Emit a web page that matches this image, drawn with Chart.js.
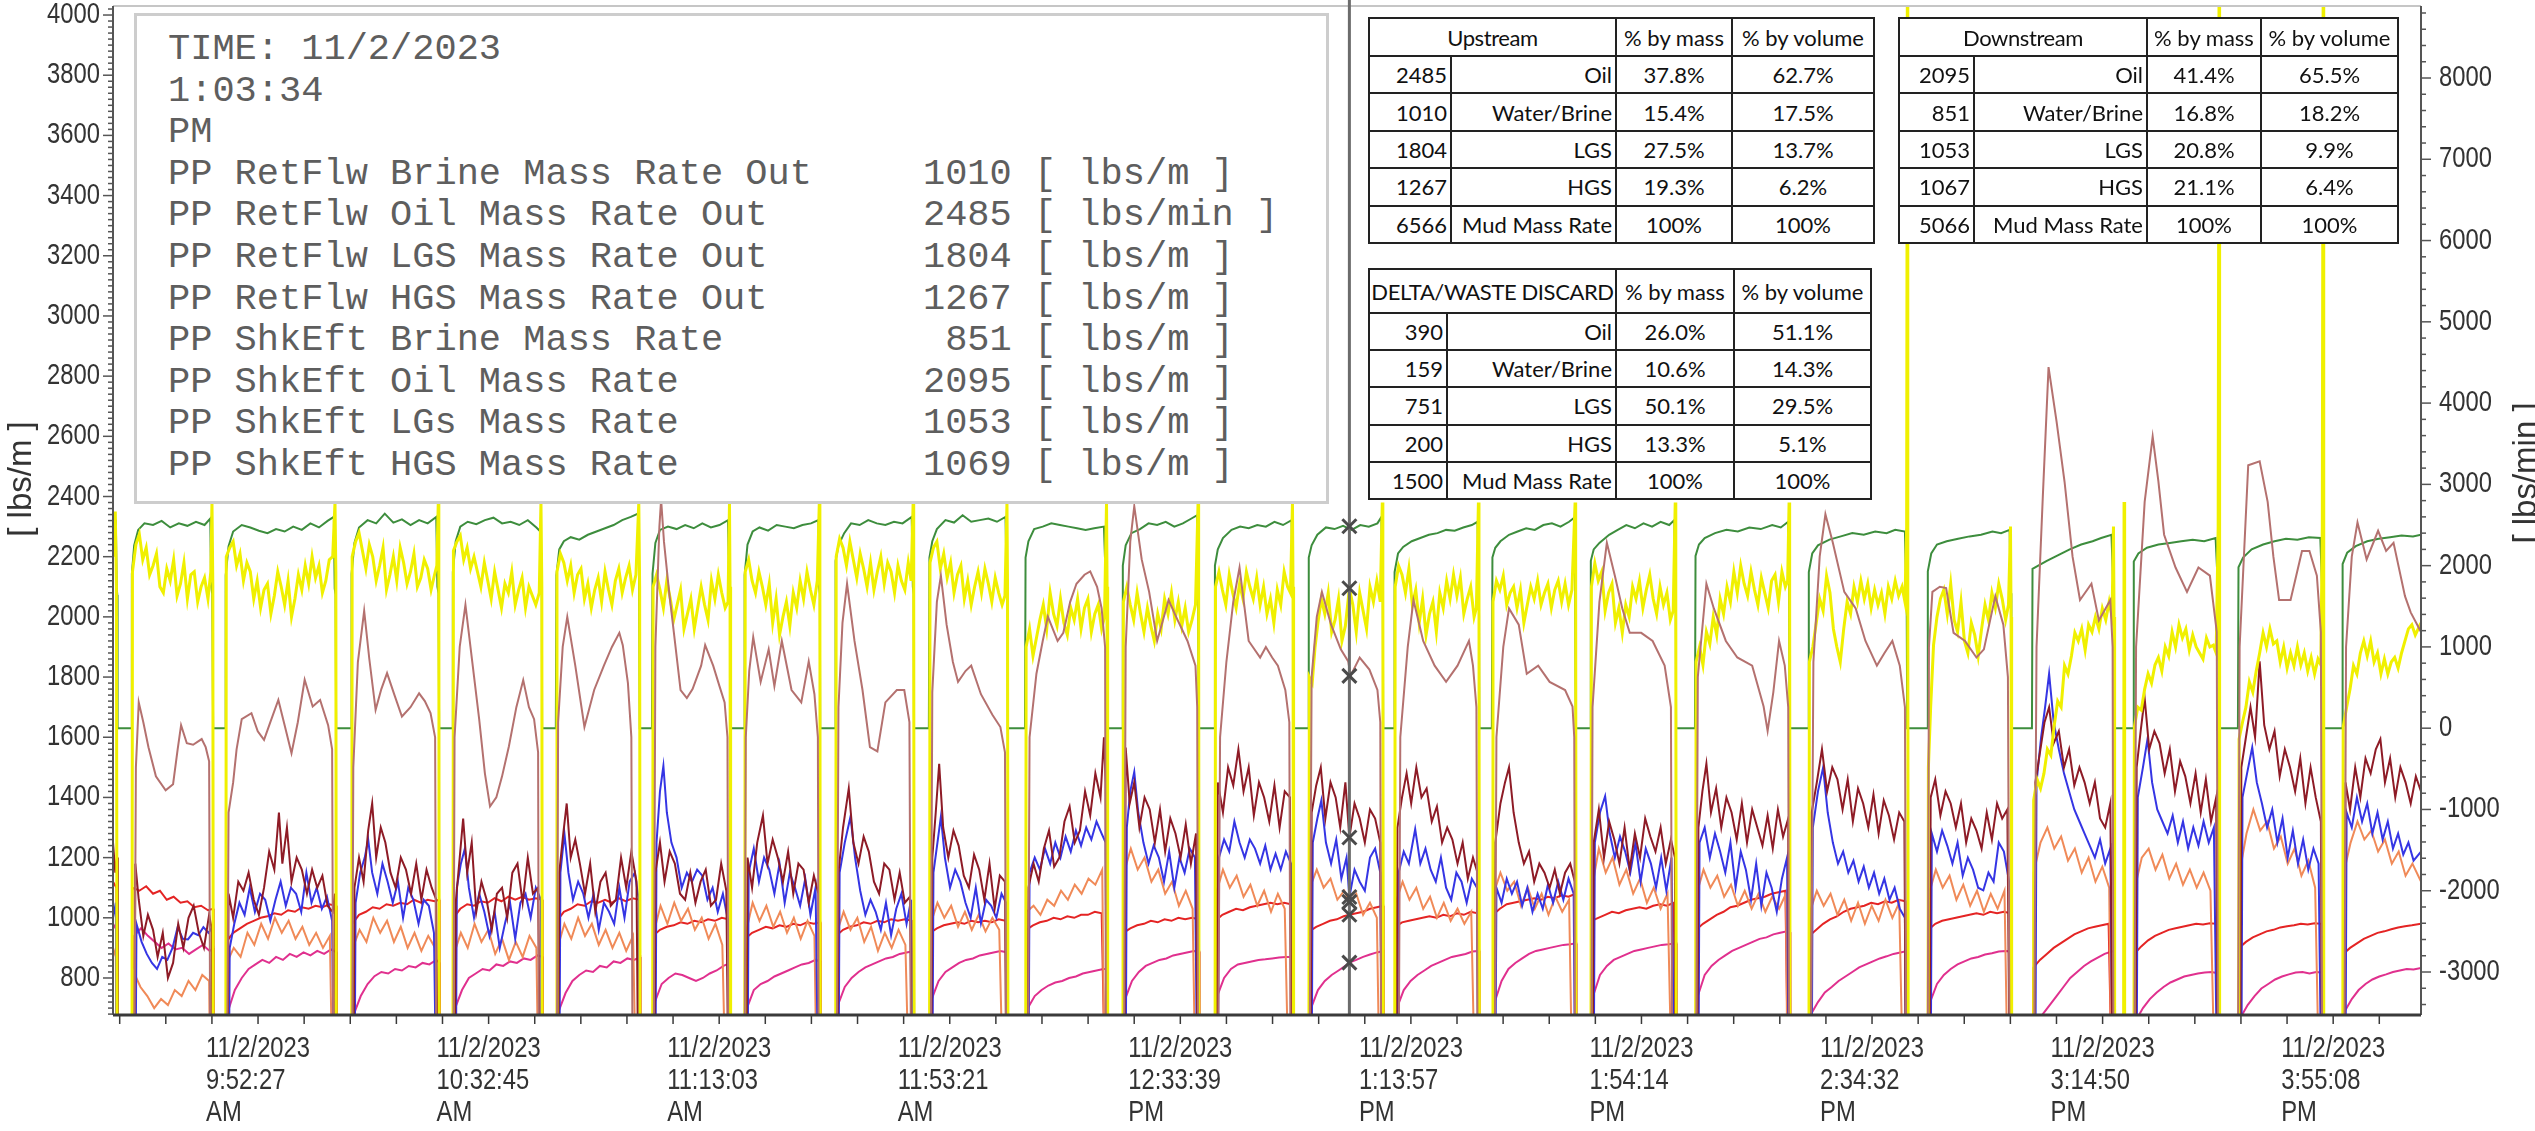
<!DOCTYPE html>
<html>
<head>
<meta charset="utf-8">
<script src="https://cdn.jsdelivr.net/npm/chart.js@4.4.0/dist/chart.umd.min.js"></script>
<style>
  html, body { margin: 0; padding: 0; background: #fff; }
  #wrap { position: relative; width: 2535px; height: 1131px; overflow: hidden; }
  #chart { position: absolute; left: 0; top: 0; }
  #readout {
    position: absolute; left: 134px; top: 13px; width: 1195px; height: 491px;
    box-sizing: border-box; border: 3px solid #cdcdcd; background: #fff;
  }
  #readout pre {
    margin: 0; position: absolute; left: 31px; top: 13px;
    font-family: "Liberation Mono", "DejaVu Sans Mono", monospace;
    font-size: 37px; line-height: 41.6px; color: #5e5e5e;
  }
  table.grid {
    position: absolute; border-collapse: collapse; table-layout: fixed; background: #fff;
    font-family: Lato, "Liberation Sans", sans-serif; font-size: 22px; color: #111;
  }
  table.grid td { border: 2px solid #222; padding: 0 3px; white-space: nowrap; overflow: hidden; }
  table.grid td.num, table.grid td.name { text-align: right; }
  table.grid td.pct, table.grid td.head { text-align: center; }
  table.grid td.head { padding: 0; letter-spacing: -0.4px; }
</style>
</head>
<body>
<div id="wrap">
  <canvas id="chart" width="2535" height="1131"></canvas>
  <div id="readout"><pre id="readoutText"></pre></div>
  <table class="grid" id="upTable"></table>
  <table class="grid" id="downTable"></table>
  <table class="grid" id="deltaTable"></table>
</div>
<script>
// time axis is minutes after 9:27:09 AM
const labelMinutes = [25.35, 65.65, 105.95, 146.25, 186.55, 226.85, 267.15, 307.45, 347.75, 388.05];
const timeLabels = [
  ['11/2/2023', '9:52:27', 'AM'], ['11/2/2023', '10:32:45', 'AM'], ['11/2/2023', '11:13:03', 'AM'],
  ['11/2/2023', '11:53:21', 'AM'], ['11/2/2023', '12:33:39', 'PM'], ['11/2/2023', '1:13:57', 'PM'],
  ['11/2/2023', '1:54:14', 'PM'], ['11/2/2023', '2:34:32', 'PM'], ['11/2/2023', '3:14:50', 'PM'],
  ['11/2/2023', '3:55:08', 'PM']
];
const leftTicks = [800, 1000, 1200, 1400, 1600, 1800, 2000, 2200, 2400, 2600, 2800, 3000, 3200, 3400, 3600, 3800, 4000];
const rightTicks = [-3000, -2000, -1000, 0, 1000, 2000, 3000, 4000, 5000, 6000, 7000, 8000];
const cursorMinute = 216.1;

const readoutHead = ['TIME: 11/2/2023', '1:03:34', 'PM'];
const readoutNames = ['PP RetFlw Brine Mass Rate Out', 'PP RetFlw Oil Mass Rate Out', 'PP RetFlw LGS Mass Rate Out',
  'PP RetFlw HGS Mass Rate Out', 'PP ShkEft Brine Mass Rate', 'PP ShkEft Oil Mass Rate', 'PP ShkEft LGs Mass Rate',
  'PP ShkEft HGS Mass Rate'];
const readoutValues = [1010, 2485, 1804, 1267, 851, 2095, 1053, 1069];
const readoutUnits = ['lbs/m', 'lbs/min', 'lbs/m', 'lbs/m', 'lbs/m', 'lbs/m', 'lbs/m', 'lbs/m'];
const readoutAxis = ['y', 'y1', 'y', 'y', 'y', 'y', 'y', 'y'];

const upstreamRows = [['2485', 'Oil', '37.8%', '62.7%'], ['1010', 'Water/Brine', '15.4%', '17.5%'], ['1804', 'LGS', '27.5%', '13.7%'],
  ['1267', 'HGS', '19.3%', '6.2%'], ['6566', 'Mud Mass Rate', '100%', '100%']];
const downstreamRows = [['2095', 'Oil', '41.4%', '65.5%'], ['851', 'Water/Brine', '16.8%', '18.2%'], ['1053', 'LGS', '20.8%', '9.9%'],
  ['1067', 'HGS', '21.1%', '6.4%'], ['5066', 'Mud Mass Rate', '100%', '100%']];
const deltaRows = [['390', 'Oil', '26.0%', '51.1%'], ['159', 'Water/Brine', '10.6%', '14.3%'], ['751', 'LGS', '50.1%', '29.5%'],
  ['200', 'HGS', '13.3%', '5.1%'], ['1500', 'Mud Mass Rate', '100%', '100%']];

// PP RetFlw Oil Mass Rate Out [lbs/min] - right axis (green)
const oilOut = [[0,2500],[0.5,2540],[0.65,1720],[0.75,1640],[0.8,0],
[3.2,0],[3.3,1900],[3.7,2250],[4.4,2440],[5.5,2520],[7,2500],[8.5,2550],[10,2470],[11.5,2520],[13,2490],[14.5,2540],[16,2500],[17.0,2580],[17.15,1760],[17.35,1650],[17.5,0],
[19.6,0],[19.7,1880],[20.2,2240],[21,2420],[22.5,2500],[24,2470],[25.5,2430],[27,2400],[28.5,2450],[30,2420],[31.5,2480],[33,2440],[34.5,2520],[36,2470],[37.5,2550],[38.6,2600],[38.75,1720],[38.9,1640],[39.0,0],
[41.6,0],[41.7,1900],[42.2,2280],[43,2470],[44.5,2560],[46,2520],[47.5,2640],[49,2530],[50.5,2570],[52,2500],[53.5,2560],[55,2520],[56.5,2600],[56.7,1740],[56.9,1660],[57.0,0],
[59.3,0],[59.4,1920],[59.9,2300],[60.7,2480],[62,2540],[63.5,2510],[65,2560],[66.5,2590],[68,2520],[69.5,2540],[71,2500],[72.5,2560],[74,2470],[74.7,2420],[74.85,1700],[74.95,1640],[75.0,0],
[77.4,0],[77.5,1880],[78,2200],[78.8,2300],[80,2350],[81.5,2320],[83,2380],[84.5,2420],[86,2460],[87.5,2500],[89,2560],[90.5,2600],[91.8,2640],[91.95,1760],[92.05,1660],[92.1,0],
[94.2,0],[94.3,1900],[94.8,2280],[95.6,2440],[97,2480],[98.5,2450],[100,2500],[101.5,2460],[103,2520],[104.5,2470],[106,2500],[107.5,2560],[107.7,1740],[107.85,1650],[107.9,0],
[110.3,0],[110.4,1880],[110.9,2260],[111.8,2420],[113,2470],[114.5,2430],[116,2500],[117.5,2480],[119,2460],[120.5,2500],[122,2520],[123.3,2560],[123.45,1720],[123.55,1650],[123.6,0],
[126.2,0],[126.3,2060],[126.8,2250],[127.8,2400],[129,2520],[130.5,2500],[132,2560],[133.5,2520],[135,2500],[136.5,2540],[138,2520],[139.6,2600],[139.8,1740],[139.95,1650],[140.0,0],
[142.6,0],[142.7,2100],[143.2,2300],[144,2450],[145.5,2560],[147,2530],[148.5,2620],[150,2540],[151.5,2560],[153,2580],[154.5,2540],[156.0,2600],[156.2,1760],[156.35,1660],[156.4,0],
[159.4,0],[159.5,2100],[160,2300],[161,2450],[162.5,2480],[164,2520],[165.5,2500],[167,2480],[168.5,2460],[170,2440],[171.5,2460],[173.2,2480],[173.55,1740],[173.7,1650],[173.8,0],
[176.4,0],[176.5,2000],[177,2250],[178,2400],[179.5,2450],[181,2520],[182.5,2500],[184,2540],[185.5,2480],[187,2520],[188.5,2580],[189.5,2620],[189.65,1740],[189.75,1650],[189.8,0],
[192.5,0],[192.6,2000],[193.1,2200],[194,2340],[195.5,2440],[197,2480],[198.5,2460],[200,2500],[201.5,2480],[203,2540],[204.5,2500],[206.0,2560],[206.15,1740],[206.25,1650],[206.3,0],
[208.9,0],[209,2100],[209.5,2250],[210.5,2380],[212,2470],[213.5,2450],[215,2490],[216.5,2440],[218,2500],[219.5,2480],[221.0,2520],[221.7,2600],[221.85,1720],[221.95,1650],[222.0,0],
[223.9,0],[224,1920],[224.6,2150],[225.5,2230],[227,2300],[228.5,2340],[230,2380],[231.5,2400],[233,2440],[234.5,2430],[236,2470],[237.5,2500],[238.5,2540],[238.65,1720],[238.75,1650],[238.8,0],
[241,0],[241.1,2100],[241.6,2220],[242.5,2300],[244,2380],[245.5,2420],[247,2460],[248.5,2440],[250,2500],[251.5,2520],[253,2480],[254.5,2540],[255.4,2590],[255.55,1740],[255.65,1650],[255.7,0],
[258.2,0],[258.3,2060],[258.8,2200],[259.8,2280],[261.5,2380],[263,2440],[264.5,2500],[266,2460],[267.5,2520],[269,2480],[270.5,2540],[272,2500],[272.9,2560],[273.05,1740],[273.15,1650],[273.2,0],
[276.5,0],[276.6,2120],[277.2,2260],[278.2,2340],[280,2400],[282,2440],[284,2420],[286,2470],[288,2450],[290,2500],[291.5,2470],[292.8,2540],[292.95,1740],[293.05,1650],[293.1,0],
[296.3,0],[296.4,1920],[297,2150],[298,2250],[300,2320],[302,2360],[304,2400],[306,2380],[308,2420],[310,2400],[311.5,2440],[313.2,2420],[313.4,1740],[313.5,1650],[313.6,0],
[317.1,0],[317.2,1930],[317.8,2150],[318.8,2260],[320.5,2300],[322.5,2330],[324.5,2360],[326.5,2380],[328.5,2420],[330,2400],[331.5,2440],[331.65,1760],[331.75,1660],[331.8,0],
[335.4,0],[335.5,1960],[336.5,2000],[338,2060],[340,2130],[342,2200],[344,2260],[346,2300],[347.5,2340],[349.3,2380],[349.6,1740],[349.7,1650],[349.8,0],
[353.1,0],[353.2,2050],[354,2150],[355.5,2220],[357.5,2260],[359.5,2280],[361.5,2300],[363.5,2320],[365.5,2300],[367.5,2340],[367.9,1740],[368.0,1650],[368.1,0],
[371.4,0],[371.5,1980],[372.3,2100],[373.8,2200],[375.8,2260],[377.8,2300],[379.8,2330],[381.8,2320],[383.8,2350],[385.8,2340],[386.1,1760],[386.2,1660],[386.3,0],
[389.6,0],[389.7,2020],[390.5,2160],[392,2240],[394,2300],[396,2330],[398,2350],[400,2370],[402,2360],[403.4,2380]];

// PP ShkEft Oil Mass Rate [lbs/m] (yellow)
const oilShk = [[0,2200],[0.4,2350],[0.6,2100],[0.75,0],
[3.3,0],[3.4,2150],[4.0,2240],[4.6,2275],[5.2,2190],[5.8,2230],[6.4,2140],[7.0,2170],[7.6,2210],[8.2,2100],[8.8,2080],[9.4,2160],[10.0,2120],[10.6,2190],[11.2,2070],[11.8,2110],[12.4,2180],[13.0,2060],[13.6,2140],[14.2,2150],[14.8,2050],[15.4,2100],[16.0,2130],[16.6,2060],[17.1,2150],[17.3,2380],[17.45,2100],[17.55,0],
[19.7,0],[19.8,2200],[20.4,2230],[21.0,2250],[21.6,2170],[22.2,2210],[22.8,2120],[23.4,2180],[24.0,2150],[24.6,2060],[25.2,2120],[25.8,2030],[26.4,2090],[27.0,2110],[27.6,2010],[28.2,2070],[28.8,2150],[29.4,2100],[30.0,2040],[30.6,2120],[31.2,2000],[31.8,2060],[32.4,2140],[33.0,2090],[33.6,2170],[34.2,2110],[34.8,2200],[35.4,2130],[36.0,2170],[36.6,2080],[37.2,2120],[37.8,2190],[38.4,2200],[38.8,2380],[38.95,2150],[39.05,0],
[41.7,0],[41.8,2200],[42.4,2250],[43.0,2280],[43.6,2220],[44.2,2160],[44.8,2240],[45.4,2200],[46.0,2120],[46.6,2170],[47.2,2230],[47.8,2090],[48.4,2140],[49.0,2200],[49.6,2120],[50.2,2230],[50.8,2180],[51.4,2110],[52.0,2150],[52.6,2210],[53.2,2100],[53.8,2130],[54.4,2190],[55.0,2160],[55.6,2090],[56.2,2140],[56.6,2170],[56.85,2380],[56.95,2100],[57.05,0],
[59.4,0],[59.5,2220],[60.1,2250],[60.7,2270],[61.3,2190],[61.9,2230],[62.5,2160],[63.1,2200],[63.7,2150],[64.3,2100],[64.9,2180],[65.5,2120],[66.1,2060],[66.7,2150],[67.3,2090],[67.9,2030],[68.5,2110],[69.1,2080],[69.7,2150],[70.3,2040],[70.9,2090],[71.5,2130],[72.1,2030],[72.7,2100],[73.3,2070],[73.9,2040],[74.5,2080],[74.8,2380],[74.95,2100],[75.05,0],
[77.5,0],[77.6,2150],[78.2,2210],[78.8,2180],[79.4,2120],[80.0,2170],[80.6,2080],[81.2,2140],[81.8,2160],[82.4,2060],[83.0,2110],[83.6,2030],[84.2,2090],[84.8,2130],[85.4,2050],[86.0,2150],[86.6,2090],[87.2,2040],[87.8,2120],[88.4,2160],[89.0,2080],[89.6,2130],[90.2,2170],[90.8,2090],[91.4,2140],[91.9,2380],[92.05,2100],[92.15,0],
[94.3,0],[94.4,2100],[95.0,2140],[95.6,2090],[96.2,2030],[96.8,2120],[97.4,2060],[98.0,1990],[98.6,2040],[99.2,2090],[99.8,1960],[100.4,2010],[101.0,2060],[101.6,1960],[102.2,2030],[102.8,2100],[103.4,2040],[104.0,1990],[104.6,2120],[105.2,2060],[105.8,2140],[106.4,2080],[107.0,2030],[107.5,2050],[107.75,2380],[107.85,2100],[107.95,0],
[110.4,0],[110.5,2150],[111.1,2190],[111.7,2120],[112.3,2080],[112.9,2150],[113.5,2100],[114.1,2040],[114.7,2110],[115.3,1980],[115.9,2060],[116.5,1940],[117.1,2000],[117.7,2050],[118.3,1970],[118.9,2080],[119.5,2030],[120.1,2120],[120.7,2060],[121.3,2150],[121.9,2090],[122.5,2040],[123.1,2120],[123.45,2380],[123.55,2100],[123.65,0],
[126.3,0],[126.4,2200],[127.0,2260],[127.6,2230],[128.2,2170],[128.8,2250],[129.4,2190],[130.0,2130],[130.6,2210],[131.2,2160],[131.8,2100],[132.4,2180],[133.0,2090],[133.6,2150],[134.2,2200],[134.8,2110],[135.4,2180],[136.0,2150],[136.6,2080],[137.2,2170],[137.8,2120],[138.4,2090],[139.0,2180],[139.5,2120],[139.85,2380],[139.95,2100],[140.05,0],
[142.7,0],[142.8,2180],[143.4,2230],[144.0,2250],[144.6,2160],[145.2,2210],[145.8,2130],[146.4,2180],[147.0,2080],[147.6,2140],[148.2,2170],[148.8,2060],[149.4,2120],[150.0,2040],[150.6,2100],[151.2,2150],[151.8,2080],[152.4,2160],[153.0,2110],[153.6,2050],[154.2,2130],[154.8,2080],[155.4,2040],[155.9,2070],[156.25,2380],[156.35,2100],[156.45,0],
[159.5,0],[159.6,1900],[160.2,1960],[160.8,1870],[161.4,1930],[162.0,1990],[162.6,2040],[163.2,1960],[163.8,2080],[164.4,2010],[165.0,1970],[165.6,2060],[166.2,1980],[166.8,1940],[167.4,2030],[168.0,1990],[168.6,2060],[169.2,1960],[169.8,2030],[170.4,2060],[171.0,1950],[171.6,2010],[172.2,2040],[172.8,1960],[173.3,2000],[173.65,2380],[173.75,2100],[173.85,0],
[176.5,0],[176.6,2050],[177.2,2100],[177.8,2040],[178.4,1990],[179.0,2080],[179.6,2010],[180.2,1950],[180.8,2030],[181.4,1970],[182.0,1920],[182.6,2010],[183.2,1960],[183.8,2060],[184.4,2010],[185.0,2080],[185.6,1990],[186.2,2050],[186.8,1970],[187.4,2030],[188.0,1950],[188.6,1990],[189.2,2040],[189.65,2380],[189.75,2100],[189.85,0],
[192.6,0],[192.7,2100],[193.3,2150],[193.9,2090],[194.5,2040],[195.1,2140],[195.7,2080],[196.3,2030],[196.9,2110],[197.5,2060],[198.1,2150],[198.7,2100],[199.3,2060],[199.9,2130],[200.5,2040],[201.1,2100],[201.7,2010],[202.3,2060],[202.9,1980],[203.5,2090],[204.1,2040],[204.7,2150],[205.3,2100],[205.8,2080],[206.15,2380],[206.25,2100],[206.35,0],
[209.0,0],[209.1,1800],[209.6,1780],[210.1,1900],[210.6,1980],[211.2,2060],[211.8,2010],[212.4,2080],[213.0,1950],[213.6,1990],[214.2,2060],[214.8,1920],[215.4,1970],[216.1,2095],[216.7,2040],[217.3,1950],[217.9,2080],[218.5,2020],[219.1,1960],[219.7,2100],[220.3,2050],[220.9,2120],[221.5,2050],[221.85,2380],[221.95,2100],[222.05,0],
[224.0,0],[224.1,2100],[224.7,2170],[225.3,2140],[225.9,2080],[226.5,2160],[227.1,2040],[227.7,2090],[228.3,1980],[228.9,2060],[229.5,1940],[230.1,2010],[230.7,2050],[231.3,1950],[231.9,2080],[232.5,2030],[233.1,2120],[233.7,2060],[234.3,2140],[234.9,2070],[235.5,2130],[236.1,2010],[236.7,2060],[237.3,2100],[237.9,2000],[238.3,2030],[238.65,2380],[238.75,2100],[238.85,0],
[241.1,0],[241.2,2050],[241.8,2120],[242.4,2090],[243.0,2137],[243.6,2040],[244.2,2080],[244.8,2100],[245.4,2030],[246.0,2090],[246.6,1980],[247.2,2040],[247.8,2100],[248.4,2060],[249.0,2120],[249.6,2040],[250.2,2080],[250.8,2110],[251.4,2030],[252.0,2090],[252.6,2120],[253.2,2050],[253.8,2110],[254.4,2040],[255.0,2090],[255.55,2380],[255.65,2100],[255.75,0],
[258.3,0],[258.4,2100],[259.0,2178],[259.6,2120],[260.2,2150],[260.8,2020],[261.4,2080],[262.0,2110],[262.6,1980],[263.2,2030],[263.8,1947],[264.4,2040],[265.0,2000],[265.6,2100],[266.2,2060],[266.8,2120],[267.4,2030],[268.0,2090],[268.6,2140],[269.2,2060],[269.8,2010],[270.4,2100],[271.0,2040],[271.6,2080],[272.2,1990],[272.7,2020],[273.05,2380],[273.15,2100],[273.25,0],
[276.6,0],[276.7,1850],[277.3,1900],[277.9,1840],[278.5,1950],[279.1,1910],[279.7,2000],[280.3,1940],[280.9,2060],[281.5,2010],[282.1,2100],[282.7,2050],[283.3,2150],[283.9,2080],[284.5,2170],[285.1,2110],[285.7,2070],[286.3,2150],[286.9,2090],[287.5,2040],[288.1,2130],[288.7,2080],[289.3,2030],[289.9,2120],[290.5,2140],[291.1,2050],[291.7,2150],[292.3,2100],[292.7,2120],[292.95,2380],[293.05,2100],[293.15,0],
[296.4,0],[296.5,1850],[297.1,1900],[297.7,1980],[298.3,2060],[298.9,2020],[299.5,2137],[300.1,2080],[300.7,1960],[301.3,1900],[301.9,1850],[302.5,1960],[303.1,2050],[303.7,2010],[304.3,2100],[304.9,2050],[305.5,2120],[306.1,2060],[306.7,2110],[307.3,2030],[307.9,2090],[308.5,2040],[309.1,2080],[309.7,2010],[310.3,2100],[310.9,2060],[311.5,2120],[312.1,2070],[312.7,2100],[313.2,2050],[313.5,2300],[313.62,4100],[313.7,2000],[313.8,0],
[317.2,0],[317.3,1499],[317.7,1702],[318.2,1906],[318.8,2000],[319.4,2060],[320.0,2090],[320.6,2010],[321.2,2110],[321.8,1990],[322.4,1950],[323.0,2050],[323.6,1920],[324.2,1880],[324.8,1980],[325.4,1940],[326.0,1870],[326.6,1960],[327.2,2040],[327.8,1990],[328.4,2080],[329.0,2030],[329.6,2110],[330.2,2060],[330.8,1990],[331.3,2040],[331.65,2300],[331.75,2000],[331.85,0],
[335.6,0],[335.7,1390],[336.3,1460],[336.9,1430],[337.5,1480],[338.1,1560],[338.7,1540],[339.3,1640],[339.9,1720],[340.5,1700],[341.1,1838],[341.7,1810],[342.3,1870],[342.9,1947],[343.5,1920],[344.1,1960],[344.7,1890],[345.3,1974],[345.9,1950],[346.5,2000],[347.1,1960],[347.7,2028],[348.3,1990],[348.9,2050],[349.4,2000],[349.65,2300],[349.75,2000],[349.85,0],[351.4,0],[351.5,2382],[351.6,0],
[353.2,0],[353.3,1634],[353.9,1700],[354.5,1690],[355.1,1760],[355.7,1811],[356.3,1780],[356.9,1840],[357.5,1865],[358.1,1820],[358.7,1900],[359.3,1870],[359.9,1950],[360.5,1900],[361.1,1974],[361.7,1930],[362.3,1960],[362.9,1890],[363.5,1940],[364.1,1900],[364.7,1880],[365.3,1860],[365.9,1930],[366.5,1900],[367.1,1906],[367.6,1880],[367.95,2300],[368.1,4100],[368.2,0],
[371.5,0],[371.6,1594],[372.2,1650],[372.8,1700],[373.4,1784],[374.0,1750],[374.6,1820],[375.2,1880],[375.8,1947],[376.4,1900],[377.0,1960],[377.6,1910],[378.2,1920],[378.8,1850],[379.4,1900],[380.0,1830],[380.6,1880],[381.2,1838],[381.8,1900],[382.4,1840],[383.0,1880],[383.6,1820],[384.2,1865],[384.8,1810],[385.4,1860],[385.9,1840],[386.15,2300],[386.3,4100],[386.4,0],
[389.7,0],[389.8,1634],[390.4,1700],[391.0,1760],[391.6,1838],[392.2,1810],[392.8,1880],[393.4,1920],[394.0,1870],[394.6,1920],[395.2,1850],[395.8,1880],[396.4,1811],[397.0,1860],[397.6,1810],[398.2,1850],[398.8,1865],[399.4,1830],[400.0,1880],[400.6,1920],[401.2,1960],[401.8,1974],[402.4,1940],[403.4,1980]];

// PP RetFlw LGS Mass Rate Out [lbs/m] (rosy brown)
const lgsOut = [[0,0],[3.6,0],[4.0,1500],[4.5,1716],[5.3,1650],[6.2,1567],[7.5,1470],[9.2,1424],[10.5,1444],[11.3,1560],[11.9,1640],[12.9,1580],[14.0,1575],[15.5,1594],[16.2,1567],[16.8,1520],[17.1,0],
[19.8,0],[20.2,1350],[21,1450],[21.6,1560],[22.5,1660],[24.2,1680],[25.3,1620],[26.4,1591],[27.5,1650],[28.9,1724],[30,1640],[31.2,1547],[32.3,1650],[33.5,1791],[34.9,1702],[36.2,1724],[37.6,1640],[38.3,1560],[38.6,0],
[41.7,0],[42.0,1500],[42.8,1850],[43.9,2020],[44.8,1860],[45.9,1691],[46.9,1760],[47.9,1813],[49.2,1740],[50.5,1669],[52,1700],[53.5,1746],[54.5,1720],[55.5,1680],[56.3,1600],[56.6,0],
[59.4,0],[59.7,1600],[60.6,1900],[61.6,2040],[62.8,1850],[64,1660],[65,1480],[65.9,1370],[67,1400],[68,1470],[69.2,1570],[70.5,1700],[71.7,1790],[72.7,1700],[73.6,1660],[74.3,1550],[74.5,0],
[77.5,0],[77.8,1650],[78.6,1900],[79.4,2000],[80.8,1838],[82.4,1634],[84.1,1757],[85.8,1838],[87.2,1900],[88.5,1947],[89.1,1906],[90.0,1780],[90.6,1600],[90.9,0],
[94.4,0],[94.8,1900],[95.5,2300],[95.8,2390],[96.3,2250],[97.2,2083],[98.2,1920],[99.2,1757],[100.3,1730],[101.3,1760],[102.8,1838],[103.5,1906],[104.9,1838],[106,1770],[106.9,1716],[107.4,1600],[107.6,0],
[110.3,0],[110.6,1600],[111.2,1820],[111.9,1933],[113.2,1784],[114.6,1892],[115.6,1770],[116.9,1920],[118.6,1757],[120.3,1716],[121.6,1852],[122.6,1743],[123.2,1600],[123.4,0],
[126.4,0],[126.8,1700],[127.5,1980],[128.3,2110],[129.6,1920],[131,1757],[132.3,1567],[133.6,1553],[135,1716],[137,1757],[138.3,1757],[139.2,1650],[139.6,0],
[142.8,0],[143.2,1750],[144.0,2050],[144.7,2137],[145.7,1974],[146.8,1850],[147.7,1784],[149,1820],[150,1838],[151.7,1743],[153.7,1675],[155.1,1634],[155.9,1550],[156.2,0],
[159.8,0],[160.2,1600],[161.4,1811],[162.5,1920],[163.4,2001],[165.1,1920],[166.1,1947],[167.3,2050],[168.4,2110],[169.8,2140],[170.8,2151],[172,2100],[172.8,2028],[173.4,1900],[173.6,0],
[176.6,0],[177.0,1900],[177.8,2250],[178.5,2368],[179.8,2191],[181.1,2083],[182.5,1920],[184.5,2056],[185.8,2001],[187.8,1920],[189.2,1838],[189.5,1700],[189.7,0],
[193.0,0],[193.5,1600],[194.6,1850],[195.8,2050],[196.9,2164],[198.5,1920],[200.5,1865],[201.5,1900],[202.6,1865],[203.6,1838],[204.9,1757],[205.6,1650],[205.9,0],
[209.0,0],[209.5,1800],[210.4,2000],[211.3,2083],[212.9,1974],[214.6,1892],[215.9,1852],[216.3,1804],[217.9,1865],[219.6,1825],[221.0,1757],[221.5,1650],[221.7,0],
[224.6,0],[225.0,1600],[226.3,1900],[227.3,2056],[229,1920],[231,1838],[233,1784],[235,1838],[237,1920],[237.7,1838],[238.3,1700],[238.6,0],
[241.4,0],[241.8,1600],[243,1900],[244,2028],[245.7,1974],[247.1,1811],[249.1,1838],[251.1,1784],[253.8,1757],[255.1,1702],[255.4,1600],[255.6,0],
[258.3,0],[258.6,1700],[259.8,2050],[261.1,2246],[262.5,2137],[263.8,2028],[265.1,1947],[267.1,1947],[269.1,1920],[271.2,1838],[272.3,1700],[272.6,0],
[276.6,0],[277,1800],[278.5,2110],[279.8,2028],[281.9,1920],[283.9,1865],[286.5,1838],[288.5,1702],[289.2,1621],[290.2,1750],[291.2,1920],[292.2,1838],[292.8,1700],[293.0,0],
[296.6,0],[297.2,1850],[298.3,2200],[299.3,2341],[300.6,2246],[302.6,2083],[304.6,2028],[306.3,1920],[308.3,1838],[309.6,1879],[311,1920],[312.3,1838],[313.2,1700],[313.5,0],
[317.1,0],[317.4,1900],[318,2083],[319.3,2100],[320.4,2096],[321.7,1947],[323.7,1920],[325.7,1865],[327,1892],[329,2069],[330.4,1974],[331.2,1800],[331.6,0],
[335.6,0],[336.2,1900],[337.3,2400],[338.3,2830],[339.7,2650],[341.1,2449],[342.5,2200],[343.8,2056],[345.8,2110],[347.1,1988],[349.1,2056],[349.5,1900],[349.7,0],
[353.2,0],[353.6,1900],[355.1,2382],[356.5,2599],[357.5,2450],[358.5,2273],[360.5,2164],[362.5,2083],[364.5,2164],[366.5,2137],[367.7,1950],[368.0,0],
[371.3,0],[371.7,1900],[373.2,2504],[375.2,2517],[376.6,2382],[377.6,2200],[378.6,2056],[380.6,2056],[382.6,2219],[383.9,2219],[385.2,2137],[385.9,1950],[386.2,0],
[389.9,0],[390.3,1900],[391.3,2200],[392.3,2314],[393.9,2191],[395.9,2286],[397.3,2219],[398.6,2246],[400.6,2069],[401.6,2015],[403.4,1950]];

// PP RetFlw HGS Mass Rate Out [lbs/m] (maroon)
const hgsOut = [[0,1250],[0.4,1150],[0.7,1200],[0.85,0],
[3.6,0],[3.9,1180],[4.5,1060],[5.3,940],[6.1,1010],[7.0,960],[7.8,870],[8.7,950],[9.6,800],[10.5,850],[11.4,980],[12.3,900],[13.2,1000],[14.1,1040],[15.0,950],[15.9,900],[16.8,1010],[17.3,960],[17.45,0],
[19.9,0],[20.2,1080],[21.0,1000],[21.9,1120],[22.8,1090],[23.7,1150],[24.6,1060],[25.5,1010],[26.4,1100],[27.3,1220],[28.2,1160],[29.0,1350],[29.6,1180],[30.4,1300],[31.2,1120],[32.1,1200],[33.0,1160],[33.9,1080],[34.8,1160],[35.7,1100],[36.6,1140],[37.5,1040],[38.4,1020],[38.8,1080],[38.95,0],
[41.9,0],[42.2,1100],[43.0,1200],[43.8,1120],[44.6,1290],[45.3,1380],[46.0,1200],[46.8,1300],[47.6,1250],[48.5,1150],[49.4,1100],[50.3,1200],[51.2,1160],[52.1,1080],[53.0,1180],[53.9,1060],[54.8,1160],[55.7,1100],[56.5,1060],[56.9,0],
[59.6,0],[59.9,1050],[60.6,1200],[61.2,1330],[61.9,1150],[62.7,1250],[63.5,1020],[64.4,1120],[65.3,1060],[66.2,960],[67.1,1080],[68.0,1100],[68.9,1000],[69.8,1150],[70.7,1180],[71.6,1050],[72.5,1200],[73.4,1080],[74.3,1100],[74.9,0],
[77.7,0],[78.0,1150],[78.7,1280],[79.3,1380],[80.0,1200],[80.8,1260],[81.6,1180],[82.5,1080],[83.4,1180],[84.3,1020],[85.2,1120],[86.1,1150],[87.0,1040],[87.9,1060],[88.8,1200],[89.7,1100],[90.6,1220],[91.5,1120],[92.0,0],
[94.5,0],[94.8,1150],[95.6,1250],[96.4,1120],[97.3,1220],[98.2,1180],[99.1,1080],[100.0,1060],[100.9,1150],[101.8,1050],[102.7,1120],[103.6,1160],[104.5,1040],[105.4,1060],[106.3,1180],[107.2,1090],[107.8,0],
[110.6,0],[110.9,1200],[111.7,1100],[112.6,1250],[113.6,1340],[114.4,1180],[115.3,1260],[116.2,1200],[117.1,1120],[118.0,1220],[118.9,1080],[119.8,1180],[120.7,1160],[121.6,1050],[122.5,1140],[123.3,1080],[123.5,0],
[126.5,0],[126.8,1150],[127.6,1300],[128.6,1430],[129.4,1250],[130.3,1180],[131.2,1270],[132.1,1220],[133.0,1120],[133.9,1080],[134.8,1180],[135.7,1160],[136.6,1060],[137.5,1150],[138.4,1050],[139.3,1070],[139.9,0],
[142.9,0],[143.2,1200],[143.8,1350],[144.4,1512],[145.1,1300],[146.0,1200],[146.9,1290],[147.8,1240],[148.7,1140],[149.6,1100],[150.5,1210],[151.4,1160],[152.3,1060],[153.2,1180],[154.1,1030],[155.0,1140],[155.9,1120],[156.3,0],
[159.7,0],[160.0,1100],[160.9,1180],[161.8,1120],[162.7,1230],[163.6,1290],[164.5,1170],[165.4,1200],[166.3,1320],[167.2,1370],[168.1,1250],[169.0,1290],[169.9,1420],[170.8,1340],[171.7,1480],[172.6,1400],[173.2,1600],[173.5,1450],[173.7,0],
[176.7,0],[177.0,1566],[177.7,1380],[178.5,1450],[179.4,1300],[180.3,1400],[181.2,1360],[182.1,1250],[183.0,1360],[183.9,1220],[184.8,1330],[185.7,1280],[186.6,1200],[187.5,1310],[188.4,1180],[189.3,1280],[189.7,0],
[192.8,0],[193.1,1450],[194.0,1350],[194.9,1500],[195.8,1440],[196.7,1560],[197.6,1420],[198.5,1500],[199.4,1340],[200.3,1450],[201.2,1400],[202.1,1320],[203.0,1440],[203.9,1300],[204.8,1420],[205.7,1400],[206.2,0],
[209.2,0],[209.5,1350],[210.3,1440],[211.1,1500],[211.9,1330],[212.8,1450],[213.7,1400],[214.5,1300],[215.4,1450],[216.1,1267],[217.0,1380],[217.9,1330],[218.8,1250],[219.7,1360],[220.6,1330],[221.5,1250],[221.9,0],
[224.2,0],[224.5,1300],[225.3,1400],[226.1,1480],[226.9,1380],[227.8,1500],[228.7,1400],[229.6,1430],[230.5,1320],[231.4,1370],[232.3,1250],[233.2,1300],[234.1,1260],[235.0,1180],[235.9,1250],[236.8,1130],[237.7,1200],[238.5,1150],[238.7,0],
[241.3,0],[241.6,1250],[242.5,1380],[243.3,1450],[244.0,1500],[244.8,1350],[245.7,1250],[246.6,1180],[247.5,1220],[248.4,1120],[249.3,1180],[250.2,1150],[251.1,1100],[252.0,1160],[252.9,1080],[253.8,1150],[254.7,1180],[255.5,1120],[255.65,0],
[258.5,0],[258.8,1250],[259.7,1360],[260.6,1200],[261.5,1320],[262.4,1260],[263.3,1180],[264.2,1300],[265.1,1160],[266.0,1280],[266.9,1200],[267.8,1330],[268.7,1270],[269.6,1220],[270.5,1300],[271.4,1180],[272.3,1260],[273.0,1200],[273.1,0],
[276.8,0],[277.1,1300],[277.8,1420],[278.5,1512],[279.3,1350],[280.2,1430],[281.1,1300],[282.0,1400],[282.9,1350],[283.8,1260],[284.7,1380],[285.6,1250],[286.5,1360],[287.4,1300],[288.3,1240],[289.2,1340],[290.1,1230],[291.0,1360],[291.9,1270],[292.8,1330],[293.0,0],
[296.6,0],[296.9,1350],[297.8,1450],[298.7,1560],[299.6,1420],[300.5,1500],[301.4,1460],[302.3,1360],[303.2,1460],[304.1,1320],[305.0,1430],[305.9,1380],[306.8,1300],[307.7,1410],[308.6,1280],[309.5,1390],[310.4,1340],[311.3,1260],[312.2,1350],[313.1,1320],[313.5,0],
[317.4,0],[317.7,1400],[318.5,1460],[319.4,1340],[320.3,1420],[321.2,1380],[322.1,1300],[323.0,1380],[323.9,1250],[324.8,1330],[325.7,1290],[326.6,1230],[327.5,1350],[328.4,1260],[329.3,1380],[330.2,1330],[331.1,1360],[331.7,0],
[335.7,0],[336.0,1450],[336.8,1550],[337.6,1650],[338.4,1700],[339.2,1580],[340.1,1620],[341.0,1500],[341.9,1560],[342.8,1440],[343.7,1500],[344.6,1450],[345.5,1380],[346.4,1450],[347.3,1330],[348.2,1300],[349.1,1380],[349.7,0],
[353.4,0],[353.7,1500],[354.4,1620],[355.1,1730],[355.9,1560],[356.8,1620],[357.7,1580],[358.6,1480],[359.5,1560],[360.4,1420],[361.3,1520],[362.2,1470],[363.1,1380],[364.0,1480],[364.9,1350],[365.8,1460],[366.7,1320],[367.6,1400],[368.0,0],
[371.7,0],[372.0,1500],[372.8,1600],[373.6,1700],[374.4,1600],[375.2,1852],[376.0,1640],[376.9,1560],[377.8,1620],[378.7,1470],[379.6,1560],[380.5,1500],[381.4,1420],[382.3,1530],[383.2,1380],[384.1,1500],[385.0,1400],[385.9,1320],[386.2,0],
[389.9,0],[390.2,1450],[391.0,1360],[391.9,1500],[392.8,1400],[393.7,1530],[394.6,1480],[395.5,1560],[396.3,1594],[397.1,1450],[398.0,1530],[398.9,1400],[399.8,1500],[400.7,1450],[401.6,1380],[402.5,1470],[403.4,1420]];

// PP ShkEft HGS Mass Rate [lbs/m] (blue)
const hgsShk = [[0,1000],[0.5,1050],[0.75,0],
[3.8,0],[4.1,980],[5.0,920],[5.9,880],[6.8,850],[7.7,830],[8.6,870],[9.5,860],[10.4,900],[11.3,969],[12.2,930],[13.1,928],[14.0,950],[14.9,942],[15.8,969],[16.7,950],[17.4,970],[17.55,0],
[20.1,0],[20.4,900],[21.2,980],[22.1,1050],[23.0,1010],[23.9,1100],[24.8,1020],[25.7,1080],[26.6,1060],[27.5,990],[28.4,1060],[29.3,1120],[30.2,1040],[31.1,1100],[32.0,1080],[32.9,1020],[33.8,1150],[34.7,1050],[35.6,1100],[36.5,1030],[37.4,1070],[38.3,990],[38.9,0],
[42.1,0],[42.4,1050],[43.2,1150],[44.0,1200],[44.6,1260],[45.3,1150],[46.2,1080],[47.1,1180],[48.0,1120],[48.9,1050],[49.8,1120],[50.7,1000],[51.6,1100],[52.5,1060],[53.4,980],[54.3,1060],[55.2,1040],[56.1,950],[56.8,0],
[59.8,0],[60.1,1100],[60.8,1180],[61.5,1230],[62.2,1100],[63.1,1000],[64.0,1080],[64.9,1020],[65.8,940],[66.7,1020],[67.6,900],[68.5,980],[69.4,1050],[70.3,930],[71.2,1050],[72.1,1080],[73.0,1000],[73.9,1100],[74.8,1060],[75.0,0],
[77.9,0],[78.2,1150],[78.9,1280],[79.6,1150],[80.4,1060],[81.3,1120],[82.2,1080],[83.1,1000],[84.0,1080],[84.9,960],[85.8,1050],[86.7,1020],[87.6,980],[88.5,1100],[89.4,1000],[90.3,1120],[91.2,1150],[91.9,1060],[92.1,0],
[94.7,0],[95.0,1250],[95.6,1420],[96.2,1505],[96.8,1350],[97.6,1250],[98.5,1200],[99.4,1100],[100.3,1150],[101.2,1120],[102.1,1160],[103.0,1140],[103.9,1060],[104.8,1100],[105.7,1020],[106.6,1080],[107.4,1000],[107.85,0],
[110.8,0],[111.1,1150],[112.0,1230],[112.9,1120],[113.8,1200],[114.7,1160],[115.6,1080],[116.5,1180],[117.4,1050],[118.3,1150],[119.2,1100],[120.1,1040],[121.0,1130],[121.9,1010],[122.8,1100],[123.55,0],
[126.7,0],[127.0,1150],[127.9,1250],[128.9,1336],[129.7,1200],[130.6,1090],[131.5,1010],[132.4,1060],[133.3,1020],[134.2,960],[135.1,1050],[136.0,942],[136.9,1030],[137.8,1080],[138.7,980],[139.5,1060],[139.95,0],
[143.1,0],[143.4,1150],[144.1,1250],[144.7,1336],[145.4,1200],[146.3,1100],[147.2,1160],[148.1,1120],[149.0,1050],[149.9,1000],[150.8,1100],[151.7,982],[152.6,1060],[153.5,1040],[154.4,1000],[155.3,1080],[156.1,1050],[156.35,0],
[159.9,0],[160.2,1150],[161.1,1200],[162.0,1160],[162.9,1230],[163.8,1180],[164.7,1250],[165.6,1200],[166.5,1270],[167.4,1220],[168.3,1290],[169.2,1240],[170.1,1300],[171.0,1260],[171.9,1320],[172.8,1280],[173.5,1250],[173.75,0],
[176.9,0],[177.2,1300],[177.8,1420],[178.5,1485],[179.2,1350],[180.1,1250],[181.0,1180],[181.9,1240],[182.8,1200],[183.7,1120],[184.6,1220],[185.5,1100],[186.4,1200],[187.3,1150],[188.2,1230],[189.1,1200],[189.75,0],
[193.0,0],[193.3,1200],[194.2,1260],[195.1,1220],[196.0,1320],[196.9,1250],[197.8,1200],[198.7,1260],[199.6,1230],[200.5,1180],[201.4,1240],[202.3,1160],[203.2,1213],[204.1,1160],[205.0,1220],[205.9,1180],[206.25,0],
[209.4,0],[209.7,1250],[210.5,1330],[211.2,1390],[212.0,1250],[212.9,1180],[213.8,1260],[214.7,1130],[215.6,1200],[216.1,1069],[217.0,1160],[217.9,1120],[218.8,1090],[219.7,1200],[220.6,1230],[221.5,1150],[221.95,0],
[224.4,0],[224.7,1150],[225.6,1220],[226.5,1180],[227.6,1295],[228.5,1180],[229.4,1230],[230.3,1160],[231.2,1120],[232.1,1200],[233.0,1100],[233.9,1060],[234.8,1150],[235.7,1120],[236.6,1050],[237.5,1130],[238.4,1100],[238.75,0],
[241.5,0],[241.8,1100],[242.7,1050],[243.6,1130],[244.5,1080],[245.4,1120],[246.3,1040],[247.2,1100],[248.1,1020],[249.0,1080],[249.9,1030],[250.8,1110],[251.7,1050],[252.6,1120],[253.5,1060],[254.4,1130],[255.3,1080],[255.7,0],
[258.7,0],[259.0,1250],[259.9,1350],[260.8,1404],[261.6,1280],[262.5,1200],[263.4,1270],[264.3,1220],[265.2,1150],[266.1,1250],[267.0,1120],[267.9,1230],[268.8,1180],[269.7,1100],[270.6,1200],[271.5,1090],[272.4,1200],[273.15,0],
[277.0,0],[277.3,1250],[278.2,1300],[279.1,1200],[280.0,1280],[280.9,1220],[281.8,1150],[282.7,1250],[283.6,1100],[284.5,1220],[285.4,1160],[286.3,1060],[287.2,1180],[288.1,1040],[289.0,1150],[289.9,1100],[290.8,1020],[291.7,1130],[292.6,1200],[293.05,0],
[296.8,0],[297.1,1300],[298.0,1420],[298.9,1499],[299.7,1350],[300.6,1250],[301.5,1180],[302.4,1220],[303.3,1150],[304.2,1190],[305.1,1120],[306.0,1170],[306.9,1100],[307.8,1150],[308.7,1080],[309.6,1130],[310.5,1060],[311.4,1100],[312.3,1030],[313.2,1000],[313.55,0],
[317.6,0],[317.9,1280],[318.8,1220],[319.7,1290],[320.6,1240],[321.5,1180],[322.4,1250],[323.3,1140],[324.2,1200],[325.1,1160],[326.0,1100],[326.9,1091],[327.8,1150],[328.7,1120],[329.6,1250],[330.5,1220],[331.4,1120],[331.75,0],
[335.9,0],[336.2,1450],[337.0,1600],[337.7,1700],[338.4,1811],[339.2,1650],[340.1,1560],[341.0,1480],[341.9,1420],[342.8,1360],[343.7,1320],[344.6,1280],[345.5,1240],[346.4,1200],[347.3,1260],[348.2,1180],[349.1,1230],[349.75,0],
[353.6,0],[353.9,1400],[354.8,1500],[355.6,1594],[356.4,1450],[357.3,1360],[358.2,1320],[359.1,1280],[360.0,1340],[360.9,1250],[361.8,1320],[362.7,1230],[363.6,1300],[364.5,1240],[365.4,1320],[366.3,1250],[367.2,1300],[368.05,0],
[371.9,0],[372.2,1400],[373.0,1480],[373.9,1566],[374.7,1450],[375.6,1380],[376.5,1300],[377.4,1360],[378.3,1250],[379.2,1330],[380.1,1200],[381.0,1290],[381.9,1180],[382.8,1260],[383.7,1160],[384.6,1230],[385.5,1180],[386.25,0],
[390.1,0],[390.4,1350],[391.3,1300],[392.2,1400],[393.1,1320],[394.0,1380],[394.9,1280],[395.8,1350],[396.7,1260],[397.6,1320],[398.5,1230],[399.4,1280],[400.3,1210],[401.2,1250],[402.1,1190],[403.4,1220]];

// PP ShkEft LGs Mass Rate [lbs/m] (salmon)
const lgsShk = [[0,900],[0.5,870],[0.7,0],
[3.5,0],[3.6,820],[4.8,770],[6.0,740],[7.2,700],[8.4,730],[9.6,710],[10.8,760],[12.0,740],[13.2,790],[14.4,760],[15.6,810],[16.8,790],[17.25,0],
[19.8,0],[19.9,850],[21.1,900],[22.3,870],[23.5,950],[24.7,910],[25.9,980],[27.1,930],[28.3,1000],[29.5,950],[30.7,990],[31.9,930],[33.1,970],[34.3,910],[35.5,950],[36.7,900],[37.9,940],[38.75,0],
[41.8,0],[41.9,900],[43.1,960],[44.3,920],[45.5,1000],[46.7,950],[47.9,990],[49.1,920],[50.3,970],[51.5,900],[52.7,950],[53.9,890],[55.1,940],[56.3,900],[56.75,0],
[59.5,0],[59.6,880],[60.8,950],[62.0,900],[63.2,980],[64.4,920],[65.6,960],[66.8,880],[68.0,930],[69.2,860],[70.4,920],[71.6,870],[72.8,940],[74.0,900],[74.7,0],
[77.6,0],[77.7,900],[78.9,980],[80.1,930],[81.3,1000],[82.5,940],[83.7,980],[84.9,910],[86.1,960],[87.3,900],[88.5,950],[89.7,890],[90.9,940],[91.85,0],
[94.4,0],[94.5,950],[95.7,1040],[96.9,980],[98.1,1050],[99.3,990],[100.5,1030],[101.7,960],[102.9,1000],[104.1,930],[105.3,980],[106.5,910],[107.6,0],
[110.5,0],[110.6,950],[111.8,1050],[113.0,990],[114.2,1040],[115.4,970],[116.6,1020],[117.8,950],[119.0,1000],[120.2,930],[121.4,990],[122.6,940],[123.35,0],
[126.4,0],[126.5,950],[127.7,1020],[128.9,960],[130.1,1000],[131.3,920],[132.5,970],[133.7,890],[134.9,950],[136.1,900],[137.3,960],[138.5,910],[139.7,0],
[142.8,0],[142.9,980],[144.1,1050],[145.3,1000],[146.5,1040],[147.7,970],[148.9,1020],[150.1,960],[151.3,1010],[152.5,955],[153.7,1000],[154.9,960],[156.1,0],
[159.6,0],[159.7,1020],[160.9,1040],[162.1,1010],[163.3,1060],[164.5,1040],[165.7,1090],[166.9,1060],[168.1,1110],[169.3,1080],[170.5,1130],[171.7,1110],[172.9,1160],[173.55,0],
[176.6,0],[176.7,1150],[177.9,1230],[179.1,1160],[180.3,1200],[181.5,1120],[182.7,1160],[183.9,1080],[185.1,1120],[186.3,1040],[187.5,1090],[188.7,1030],[189.55,0],
[192.7,0],[192.8,1080],[194.0,1160],[195.2,1100],[196.4,1140],[197.6,1070],[198.8,1110],[200.0,1040],[201.2,1090],[202.4,1020],[203.6,1080],[204.8,1030],[206.0,0],
[209.1,0],[209.2,1100],[210.4,1160],[211.6,1100],[212.8,1130],[214.0,1060],[215.2,1090],[216.1,1053],[217.3,1080],[218.5,1010],[219.7,1050],[220.9,1000],[221.75,0],
[224.1,0],[224.2,1050],[225.4,1120],[226.6,1060],[227.8,1100],[229.0,1030],[230.2,1070],[231.4,1000],[232.6,1050],[233.8,990],[235.0,1030],[236.2,980],[237.4,1020],[238.5,0],
[241.2,0],[241.3,1080],[242.5,1150],[243.7,1090],[244.9,1120],[246.1,1040],[247.3,1100],[248.5,1030],[249.7,1080],[250.9,1010],[252.1,1070],[253.3,1020],[254.5,1060],[255.45,0],
[258.4,0],[258.5,1100],[259.7,1230],[260.9,1150],[262.1,1200],[263.3,1110],[264.5,1160],[265.7,1080],[266.9,1130],[268.1,1050],[269.3,1100],[270.5,1030],[271.7,1080],[272.95,0],
[276.7,0],[276.8,1080],[278.0,1160],[279.2,1100],[280.4,1140],[281.6,1070],[282.8,1110],[284.0,1040],[285.2,1090],[286.4,1030],[287.6,1080],[288.8,1020],[290.0,1070],[291.2,1030],[292.4,1080],[292.85,0],
[296.5,0],[296.6,1020],[297.8,1090],[299.0,1040],[300.2,1080],[301.4,1010],[302.6,1060],[303.8,990],[305.0,1050],[306.2,980],[307.4,1040],[308.6,990],[309.8,1060],[311.0,1000],[312.2,1050],[313.35,0],
[317.3,0],[317.4,1080],[318.6,1160],[319.8,1100],[321.0,1140],[322.2,1060],[323.4,1110],[324.6,1040],[325.8,1090],[327.0,1020],[328.2,1080],[329.4,1030],[330.6,1090],[331.55,0],
[335.6,0],[335.7,1150],[336.9,1250],[338.1,1300],[339.3,1230],[340.5,1270],[341.7,1190],[342.9,1230],[344.1,1150],[345.3,1200],[346.5,1120],[347.7,1170],[348.9,1100],[349.55,0],
[353.3,0],[353.4,1100],[354.6,1200],[355.8,1230],[357.0,1160],[358.2,1210],[359.4,1130],[360.6,1180],[361.8,1110],[363.0,1160],[364.2,1100],[365.4,1150],[366.6,1090],[367.85,0],
[371.6,0],[371.7,1150],[372.9,1280],[374.1,1360],[375.3,1290],[376.5,1320],[377.7,1230],[378.9,1270],[380.1,1180],[381.3,1230],[382.5,1140],[383.7,1190],[384.9,1100],[386.05,0],
[389.8,0],[389.9,1150],[391.1,1250],[392.3,1320],[393.5,1260],[394.7,1290],[395.9,1220],[397.1,1260],[398.3,1180],[399.5,1220],[400.7,1140],[401.9,1180],[403.4,1120]];

// PP RetFlw Brine Mass Rate Out [lbs/m] (red)
const brineOut = [[0,1120],[0.6,1100],[0.8,0],
[3.3,0],[3.4,1100],[4.6,1090],[5.8,1105],[7.0,1080],[8.2,1090],[9.4,1060],[10.6,1070],[11.8,1050],[13.0,1055],[14.2,1035],[15.4,1040],[16.6,1025],[17.5,1030],[17.6,0],
[19.7,0],[19.8,920],[21.0,950],[22.2,965],[23.4,980],[24.6,990],[25.8,1000],[27.0,1005],[28.2,1015],[29.4,1010],[30.6,1025],[31.8,1020],[33.0,1035],[34.2,1030],[35.4,1040],[36.6,1035],[37.8,1045],[39.0,1040],[39.1,0],
[41.7,0],[41.8,980],[43.0,1010],[44.2,1020],[45.4,1035],[46.6,1030],[47.8,1045],[49.0,1040],[50.2,1050],[51.4,1045],[52.6,1060],[53.8,1050],[55.0,1060],[56.2,1055],[57.0,1060],[57.1,0],
[59.4,0],[59.5,1000],[60.7,1030],[61.9,1045],[63.1,1040],[64.3,1055],[65.5,1050],[66.7,1065],[67.9,1055],[69.1,1070],[70.3,1060],[71.5,1070],[72.7,1060],[73.9,1065],[75.0,1060],[75.1,0],
[77.5,0],[77.6,990],[78.8,1020],[80.0,1030],[81.2,1045],[82.4,1040],[83.6,1055],[84.8,1050],[86.0,1060],[87.2,1050],[88.4,1065],[89.6,1055],[90.8,1065],[92.1,1060],[92.2,0],
[94.3,0],[94.4,940],[95.6,960],[96.8,970],[98.0,975],[99.2,985],[100.4,980],[101.6,990],[102.8,985],[104.0,995],[105.2,990],[106.4,1000],[107.6,995],[107.95,0],
[110.4,0],[110.5,930],[111.7,950],[112.9,960],[114.1,970],[115.3,965],[116.5,975],[117.7,970],[118.9,980],[120.1,975],[121.3,985],[122.5,980],[123.6,985],[123.7,0],
[126.3,0],[126.4,940],[127.6,960],[128.8,970],[130.0,975],[131.2,985],[132.4,980],[133.6,990],[134.8,985],[136.0,995],[137.2,990],[138.4,995],[139.6,990],[140.05,0],
[142.7,0],[142.8,950],[144.0,965],[145.2,975],[146.4,980],[147.6,985],[148.8,980],[150.0,990],[151.2,985],[152.4,990],[153.6,985],[154.8,995],[156.0,990],[156.45,0],
[159.5,0],[159.6,960],[160.8,975],[162.0,985],[163.2,990],[164.4,1000],[165.6,995],[166.8,1005],[168.0,1000],[169.2,1010],[170.4,1010],[171.6,1020],[172.8,1015],[173.85,0],
[176.5,0],[176.6,950],[177.8,965],[179.0,975],[180.2,980],[181.4,990],[182.6,985],[183.8,995],[185.0,990],[186.2,1000],[187.4,995],[188.6,1000],[189.8,995],[189.9,0],
[192.6,0],[192.7,990],[193.9,1010],[195.1,1020],[196.3,1030],[197.5,1025],[198.7,1035],[199.9,1040],[201.1,1045],[202.3,1050],[203.5,1045],[204.7,1050],[205.9,1045],[206.35,0],
[209.0,0],[209.1,955],[210.3,970],[211.5,980],[212.7,990],[213.9,995],[215.1,1005],[216.1,1010],[217.3,1015],[218.5,1020],[219.7,1030],[220.9,1035],[222.0,1040],[222.1,0],
[224.0,0],[224.1,970],[225.3,985],[226.5,990],[227.7,995],[228.9,1000],[230.1,1005],[231.3,1000],[232.5,1010],[233.7,1005],[234.9,1015],[236.1,1010],[237.3,1020],[238.5,1015],[238.85,0],
[241.1,0],[241.2,1010],[242.4,1030],[243.6,1045],[244.8,1050],[246.0,1055],[247.2,1060],[248.4,1065],[249.6,1060],[250.8,1070],[252.0,1065],[253.2,1075],[254.4,1070],[255.6,1080],[255.75,0],
[258.3,0],[258.4,990],[259.6,1000],[260.8,1010],[262.0,1020],[263.2,1015],[264.4,1025],[265.6,1030],[266.8,1035],[268.0,1030],[269.2,1040],[270.4,1045],[271.6,1040],[272.8,1050],[273.25,0],
[276.6,0],[276.7,960],[277.9,980],[279.1,995],[280.3,1010],[281.5,1020],[282.7,1035],[283.9,1040],[285.1,1050],[286.3,1060],[287.5,1065],[288.7,1070],[289.9,1080],[291.1,1085],[292.3,1090],[293.15,0],
[296.4,0],[296.5,940],[297.7,960],[298.9,980],[300.1,995],[301.3,1005],[302.5,1020],[303.7,1030],[304.9,1035],[306.1,1040],[307.3,1050],[308.5,1045],[309.7,1055],[310.9,1050],[312.1,1060],[313.3,1055],[313.65,0],
[317.2,0],[317.3,960],[318.5,980],[319.7,990],[320.9,995],[322.1,1000],[323.3,1005],[324.5,1010],[325.7,1015],[326.9,1010],[328.1,1020],[329.3,1015],[330.5,1020],[331.7,1015],[331.85,0],
[335.5,0],[335.6,834],[336.8,860],[338.0,880],[339.2,900],[340.4,915],[341.6,930],[342.8,945],[344.0,955],[345.2,965],[346.4,970],[347.6,975],[348.8,980],[349.85,0],
[353.2,0],[353.3,880],[354.5,905],[355.7,925],[356.9,940],[358.1,950],[359.3,960],[360.5,965],[361.7,970],[362.9,975],[364.1,980],[365.3,978],[366.5,982],[367.7,980],[368.15,0],
[371.5,0],[371.6,900],[372.8,920],[374.0,935],[375.2,945],[376.4,955],[377.6,960],[378.8,968],[380.0,972],[381.2,975],[382.4,980],[383.6,978],[384.8,982],[386.0,980],[386.35,0],
[389.7,0],[389.8,880],[391.0,900],[392.2,915],[393.4,930],[394.6,940],[395.8,950],[397.0,955],[398.2,962],[399.4,968],[400.6,972],[401.8,975],[403.4,980]];

// PP ShkEft Brine Mass Rate [lbs/m] (magenta)
const brineShk = [[0,980],[0.6,960],[0.85,0],
[3.5,0],[3.7,940],[4.9,965],[6.1,940],[7.3,920],[8.5,900],[9.7,915],[10.9,895],[12.1,900],[13.3,880],[14.5,895],[15.7,910],[16.9,890],[17.55,900],[17.65,0],
[20.0,0],[20.1,690],[21.3,760],[22.5,800],[23.7,830],[24.9,845],[26.1,860],[27.3,850],[28.5,870],[29.7,860],[30.9,880],[32.1,870],[33.3,885],[34.5,875],[35.7,890],[36.9,880],[38.1,895],[39.1,885],[39.15,0],
[42.0,0],[42.1,680],[43.3,740],[44.5,780],[45.7,806],[46.9,820],[48.1,815],[49.3,830],[50.5,825],[51.7,840],[52.9,835],[54.1,850],[55.3,845],[56.5,860],[57.1,850],[57.15,0],
[59.7,0],[59.8,700],[61.0,760],[62.2,800],[63.4,815],[64.6,830],[65.8,825],[67.0,845],[68.2,840],[69.4,855],[70.6,850],[71.8,865],[73.0,860],[74.2,875],[75.1,870],[75.15,0],
[77.8,0],[77.9,690],[79.1,750],[80.3,790],[81.5,810],[82.7,825],[83.9,820],[85.1,840],[86.3,835],[87.5,855],[88.7,850],[89.9,865],[91.1,860],[92.15,870],[92.25,0],
[94.6,0],[94.7,720],[95.9,780],[97.1,800],[98.3,815],[99.5,810],[100.7,800],[101.9,790],[103.1,800],[104.3,815],[105.5,825],[106.7,840],[107.9,850],[108.0,0],
[110.7,0],[110.8,700],[112.0,760],[113.2,780],[114.4,790],[115.6,805],[116.8,815],[118.0,825],[119.2,835],[120.4,845],[121.6,850],[122.8,860],[123.65,855],[123.75,0],
[126.6,0],[126.7,710],[127.9,770],[129.1,800],[130.3,820],[131.5,835],[132.7,845],[133.9,855],[135.1,865],[136.3,870],[137.5,880],[138.7,885],[140.0,890],[140.1,0],
[143.0,0],[143.1,730],[144.3,790],[145.5,820],[146.7,835],[147.9,850],[149.1,860],[150.3,865],[151.5,875],[152.7,880],[153.9,885],[155.1,890],[156.4,885],[156.5,0],
[159.8,0],[159.9,700],[161.1,740],[162.3,760],[163.5,775],[164.7,785],[165.9,790],[167.1,800],[168.3,805],[169.5,815],[170.7,820],[171.9,825],[173.1,830],[173.9,830],[173.95,0],
[176.8,0],[176.9,730],[178.1,790],[179.3,820],[180.5,840],[181.7,850],[182.9,860],[184.1,865],[185.3,875],[186.5,880],[187.7,885],[188.9,890],[189.85,888],[189.95,0],
[192.9,0],[193.0,740],[194.2,800],[195.4,830],[196.6,845],[197.8,850],[199.0,855],[200.2,860],[201.4,862],[202.6,865],[203.8,868],[205.0,870],[206.3,870],[206.4,0],
[209.3,0],[209.4,700],[210.6,760],[211.8,790],[213.0,810],[214.2,825],[215.4,840],[216.1,851],[217.3,860],[218.5,870],[219.7,878],[220.9,885],[222.05,890],[222.15,0],
[224.3,0],[224.4,700],[225.6,760],[226.8,790],[228.0,810],[229.2,825],[230.4,840],[231.6,850],[232.8,860],[234.0,870],[235.2,875],[236.4,880],[237.6,888],[238.8,890],[238.9,0],
[241.4,0],[241.5,720],[242.7,790],[243.9,830],[245.1,850],[246.3,865],[247.5,880],[248.7,890],[249.9,895],[251.1,900],[252.3,905],[253.5,910],[254.7,912],[255.75,915],[255.85,0],
[258.6,0],[258.7,740],[259.9,810],[261.1,840],[262.3,860],[263.5,870],[264.7,880],[265.9,890],[267.1,895],[268.3,900],[269.5,905],[270.7,910],[271.9,912],[273.25,915],[273.35,0],
[276.9,0],[277.0,740],[278.2,810],[279.4,840],[280.6,860],[281.8,875],[283.0,890],[284.2,900],[285.4,910],[286.6,920],[287.8,930],[289.0,935],[290.2,945],[291.4,950],[292.6,955],[293.2,950],[293.3,0],
[296.7,0],[296.8,680],[298.0,720],[299.2,752],[300.4,770],[301.6,790],[302.8,805],[304.0,820],[305.2,835],[306.4,845],[307.6,855],[308.8,865],[310.0,872],[311.2,880],[312.4,885],[313.6,890],[313.7,0],
[317.5,0],[317.6,720],[318.8,780],[320.0,810],[321.2,830],[322.4,845],[323.6,855],[324.8,865],[326.0,870],[327.2,878],[328.4,882],[329.6,888],[330.8,890],[331.8,888],[331.9,0],
[336.0,0],[336.1,640],[337.3,680],[338.5,710],[339.7,740],[340.9,770],[342.1,800],[343.3,820],[344.5,840],[345.7,855],[346.9,868],[348.1,880],[349.3,888],[349.9,890],[350.0,0],
[353.5,0],[353.6,660],[354.8,700],[356.0,730],[357.2,752],[358.4,770],[359.6,785],[360.8,795],[362.0,805],[363.2,810],[364.4,815],[365.6,818],[366.8,820],[368.1,815],[368.2,0],
[371.8,0],[371.9,670],[373.1,710],[374.3,740],[375.5,765],[376.7,780],[377.9,795],[379.1,805],[380.3,812],[381.5,818],[382.7,820],[383.9,815],[385.1,820],[386.3,818],[386.4,0],
[390.0,0],[390.1,690],[391.3,730],[392.5,760],[393.7,780],[394.9,795],[396.1,805],[397.3,812],[398.5,820],[399.7,825],[400.9,830],[402.1,828],[403.4,833]];

// ---------- readout box and tables ----------
const readoutLines = readoutHead.slice();
readoutNames.forEach((n, i) => {
  readoutLines.push(n.padEnd(34) + String(readoutValues[i]).padStart(4) + ' [ ' + readoutUnits[i] + ' ]');
});
document.getElementById('readoutText').textContent = readoutLines.join('\n');

function buildTable(id, title, rows, left, top, cols, headH, rowH) {
  const t = document.getElementById(id);
  t.style.left = left + 'px';
  t.style.top = top + 'px';
  t.style.width = cols.reduce((a, b) => a + b, 0) + 'px';
  let html = '<colgroup>' + cols.map(c => '<col style="width:' + c + 'px">').join('') + '</colgroup>';
  html += '<tr style="height:' + headH + 'px"><td class="head" colspan="2">' + title +
    '</td><td class="pct">% by mass</td><td class="pct">% by volume</td></tr>';
  rows.forEach(r => {
    html += '<tr style="height:' + rowH + 'px"><td class="num">' + r[0] + '</td><td class="name">' + r[1] +
      '</td><td class="pct">' + r[2] + '</td><td class="pct">' + r[3] + '</td></tr>';
  });
  t.innerHTML = html;
}
buildTable('upTable', 'Upstream', upstreamRows, 1368, 17, [82, 165, 116, 142], 38, 37.4);
buildTable('downTable', 'Downstream', downstreamRows, 1898, 17, [75, 173, 114, 137], 38, 37.4);
buildTable('deltaTable', 'DELTA/WASTE DISCARD', deltaRows, 1368, 268, [78, 169, 118, 137], 44, 37.2);

// ---------- axes, cursor and markers drawn over the plot ----------
const tickFont = '29px "Liberation Sans", Arial, sans-serif';
const titleFont = '33px "Liberation Sans", Arial, sans-serif';
const narrow = 0.82; // squeeze to an Arial Narrow look
const minorStep = (labelMinutes[1] - labelMinutes[0]) / 5;

function narrowText(ctx, s, x, y, align, rot, sx) {
  ctx.save();
  ctx.translate(x, y);
  if (rot) ctx.rotate(rot);
  ctx.scale(sx || narrow, 1);
  ctx.textAlign = align;
  ctx.fillText(s, 0, 0);
  ctx.restore();
}

const axesPlugin = {
  id: 'axesPlugin',
  afterDatasetsDraw(chart) {
    const ctx = chart.ctx;
    const a = chart.chartArea;
    const x = chart.scales.x, y = chart.scales.y, y1 = chart.scales.y1;
    const seg = (x0, y0, x2, y2) => { ctx.beginPath(); ctx.moveTo(x0, y0); ctx.lineTo(x2, y2); ctx.stroke(); };
    ctx.save();

    // top frame
    ctx.strokeStyle = '#c6c6c6'; ctx.lineWidth = 2;
    seg(a.left, a.top, a.right, a.top);

    // cursor line and markers
    const cx = x.getPixelForValue(cursorMinute);
    ctx.strokeStyle = '#6c6c6c'; ctx.lineWidth = 3;
    seg(cx, 0, cx, a.bottom);
    ctx.strokeStyle = '#4a4a4a'; ctx.lineWidth = 3;
    readoutValues.forEach((v, i) => {
      const sc = readoutAxis[i] === 'y1' ? y1 : y;
      const py = sc.getPixelForValue(v);
      seg(cx - 7, py - 7, cx + 7, py + 7);
      seg(cx - 7, py + 7, cx + 7, py - 7);
    });

    ctx.fillStyle = '#333';
    ctx.font = tickFont;
    ctx.textBaseline = 'middle';

    // left axis
    ctx.strokeStyle = '#555'; ctx.lineWidth = 2;
    seg(a.left, a.top, a.left, a.bottom);
    ctx.lineWidth = 1.5;
    for (let v = 680; v <= 4020; v += 20) {
      const py = y.getPixelForValue(v);
      seg(a.left - (v % 200 === 0 ? 10 : 5), py, a.left, py);
    }
    leftTicks.forEach(v => narrowText(ctx, String(v), a.left - 13, y.getPixelForValue(v), 'right'));

    // right axis
    ctx.lineWidth = 2;
    seg(a.right, a.top, a.right, a.bottom);
    ctx.lineWidth = 1.5;
    for (let v = -3400; v <= 8800; v += 200) {
      const py = y1.getPixelForValue(v);
      seg(a.right, py, a.right + (v % 1000 === 0 ? 10 : 5), py);
    }
    rightTicks.forEach(v => narrowText(ctx, String(v), a.right + 18, y1.getPixelForValue(v), 'left'));

    // bottom axis
    ctx.strokeStyle = '#3a3a3a'; ctx.lineWidth = 3;
    seg(a.left, a.bottom, a.right, a.bottom);
    ctx.lineWidth = 1.5;
    for (let m = labelMinutes[0] - 3 * minorStep; m <= x.max; m += minorStep) {
      const px = x.getPixelForValue(m);
      seg(px, a.bottom, px, a.bottom + 9);
    }
    labelMinutes.forEach((m, i) => {
      const lines = timeLabels[i];
      const px = x.getPixelForValue(m);
      const w = ctx.measureText(lines[0]).width * narrow;
      lines.forEach((s, k) => narrowText(ctx, s, px - w / 2, a.bottom + 34 + k * 32, 'left'));
    });

    // axis titles
    ctx.font = titleFont;
    narrowText(ctx, '[ lbs/m ]', 22, 479, 'center', -Math.PI / 2, 1);
    narrowText(ctx, '[ lbs/min ]', 2527, 473, 'center', -Math.PI / 2, 1);

    ctx.restore();
  }
};

const pts = arr => arr.map(p => ({ x: p[0], y: p[1] }));

new Chart(document.getElementById('chart'), {
  type: 'line',
  data: {
    datasets: [
      { label: 'PP RetFlw LGS Mass Rate Out', data: pts(lgsOut), borderColor: '#b4716f', yAxisID: 'y' },
      { label: 'PP ShkEft Oil Mass Rate', data: pts(oilShk), borderColor: '#f0f000', borderWidth: 3, yAxisID: 'y' },
      { label: 'PP RetFlw Oil Mass Rate Out', data: pts(oilOut), borderColor: '#3d8d3d', yAxisID: 'y1' },
      { label: 'PP RetFlw HGS Mass Rate Out', data: pts(hgsOut), borderColor: '#8e1b26', yAxisID: 'y' },
      { label: 'PP ShkEft HGS Mass Rate', data: pts(hgsShk), borderColor: '#3535e4', yAxisID: 'y' },
      { label: 'PP ShkEft LGs Mass Rate', data: pts(lgsShk), borderColor: '#f08a58', yAxisID: 'y' },
      { label: 'PP RetFlw Brine Mass Rate Out', data: pts(brineOut), borderColor: '#e42424', yAxisID: 'y' },
      { label: 'PP ShkEft Brine Mass Rate', data: pts(brineShk), borderColor: '#e0308e', yAxisID: 'y' }
    ]
  },
  options: {
    responsive: false,
    animation: false,
    devicePixelRatio: 1,
    parsing: false,
    layout: { padding: { left: 113, right: 114, top: 6, bottom: 116 } },
    elements: { point: { radius: 0 }, line: { borderWidth: 2, tension: 0 } },
    plugins: { legend: { display: false }, tooltip: { enabled: false } },
    scales: {
      x: { type: 'linear', min: 0, max: 403.4, display: false },
      y: { type: 'linear', min: 677, max: 4030, display: false },
      y1: { type: 'linear', position: 'right', min: -3529, max: 8886, display: false }
    }
  },
  plugins: [axesPlugin]
});
</script>
</body>
</html>
